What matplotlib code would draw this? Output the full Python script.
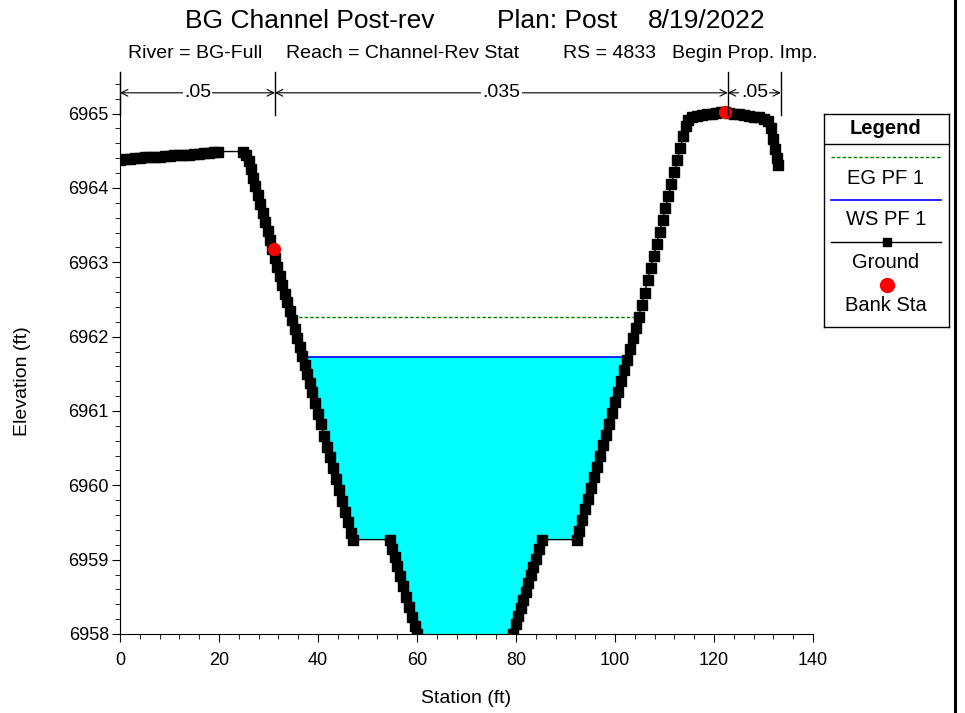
import matplotlib.pyplot as plt
from matplotlib.lines import Line2D
from matplotlib.ticker import MultipleLocator

plt.rcParams['font.family'] = ['Liberation Sans', 'DejaVu Sans']

# Ground profile (station, elevation)
station = [0, 1, 2, 3, 4, 5, 6, 7, 8, 9, 10, 11, 12, 13, 14, 15, 16, 17, 18, 19, 19.8,
           24.9, 25.5, 26.0, 26.4, 26.8, 27.3, 27.8, 28.3, 28.8, 29.3, 29.8, 30.3, 30.8, 31.3,
           31.8, 32.3, 32.8, 33.3, 33.8, 34.3, 34.8, 35.3, 35.8, 36.3, 36.8, 37.3, 37.8,
           38.3, 38.8, 39.4, 40.0, 40.6, 41.2, 41.8, 42.4, 43.0, 43.6, 44.2, 44.8, 45.4,
           46.0, 46.6, 47.1, 54.5, 55.0, 55.5, 56.0, 56.6, 57.2, 57.8, 58.4, 59.0, 59.5,
           60.0, 61.0, 78.5, 79.4, 80.0, 80.5, 81.0, 81.5, 82.0, 82.5, 83.0, 83.5, 84.0,
           84.6, 85.2, 92.3, 92.8, 93.4, 94.0, 94.6, 95.2, 95.8, 96.4, 97.0, 97.6, 98.2,
           98.8, 99.4, 100.0, 100.6, 101.2, 101.8, 102.4, 103.0, 103.6, 104.2, 104.8,
           105.4, 106.0, 106.6, 107.2, 107.8, 108.4, 109.0, 109.6, 110.2, 110.8, 111.4,
           112.0, 112.6, 113.2, 113.8, 114.4, 114.8, 115.5, 116.5, 117.5, 118.5, 119.5,
           120.5, 121.5, 122.2, 123.0, 124.0, 125.0, 126.0, 127.0, 128.0, 129.0, 130.0,
           131.0, 131.5, 132.0, 132.4, 132.7, 132.9]
elevation = [6964.38, 6964.39, 6964.39, 6964.40, 6964.40, 6964.41, 6964.41, 6964.42,
             6964.42, 6964.43, 6964.43, 6964.44, 6964.44, 6964.45, 6964.45, 6964.46,
             6964.46, 6964.47, 6964.47, 6964.48, 6964.49,
             6964.49, 6964.45, 6964.36, 6964.25, 6964.14, 6964.02, 6963.90, 6963.78,
             6963.66, 6963.54, 6963.42, 6963.30, 6963.18, 6963.06,
             6962.94, 6962.82, 6962.70, 6962.58, 6962.46, 6962.34, 6962.22, 6962.10,
             6961.98, 6961.86, 6961.74, 6961.62, 6961.50,
             6961.38, 6961.26, 6961.11, 6960.96, 6960.82, 6960.67, 6960.52, 6960.38,
             6960.23, 6960.08, 6959.94, 6959.79, 6959.64,
             6959.50, 6959.36, 6959.27, 6959.27, 6959.15, 6959.04, 6958.92, 6958.78,
             6958.64, 6958.50, 6958.36, 6958.23, 6958.11,
             6958.00, 6957.75, 6957.75, 6958.00, 6958.13, 6958.24, 6958.35, 6958.46,
             6958.57, 6958.68, 6958.79, 6958.90, 6959.01,
             6959.14, 6959.27, 6959.27, 6959.39, 6959.53, 6959.68, 6959.82, 6959.96,
             6960.11, 6960.25, 6960.40, 6960.54, 6960.68,
             6960.83, 6960.97, 6961.12, 6961.26, 6961.40, 6961.55, 6961.69, 6961.84,
             6961.98, 6962.12, 6962.27,
             6962.43, 6962.59, 6962.76, 6962.92, 6963.08, 6963.24, 6963.41, 6963.57,
             6963.73, 6963.89, 6964.06,
             6964.22, 6964.38, 6964.54, 6964.70, 6964.84, 6964.92, 6964.95, 6964.97,
             6964.98, 6964.99, 6965.00,
             6965.01, 6965.02, 6965.02, 6965.01, 6965.00, 6964.99, 6964.98, 6964.97,
             6964.96, 6964.95, 6964.93,
             6964.90, 6964.80, 6964.66, 6964.52, 6964.40, 6964.31]

bank_sta = [31.1, 122.2]
bank_elev = [6963.18, 6965.02]

ws_elev = 6961.73
ws_range = [37.0, 102.6]
eg_elev = 6962.27
eg_range = [34.9, 105.0]

n_bounds = [0, 31.3, 122.8, 133.5]
n_values = ['.05', '.035', '.05']

title_parts = ['BG Channel Post-rev', 'Plan: Post', '8/19/2022']
subtitle_parts = ['River = BG-Full', 'Reach = Channel-Rev Stat', 'RS = 4833',
                  'Begin Prop. Imp.']

fig = plt.figure(figsize=(9.65, 7.13), dpi=100)
ax = fig.add_axes([120 / 965, 79 / 713, 693 / 965, 562 / 713])

# water fill
ax.fill_between(station, elevation, ws_elev,
                where=[(ws_range[0] <= s <= ws_range[1]) for s in station],
                interpolate=True, color='#00ffff', lw=0, zorder=1)
ax.hlines(ws_elev, ws_range[0], ws_range[1], color='#0000ff', lw=1.2, zorder=2)
ax.hlines(eg_elev, eg_range[0], eg_range[1], color='#008000', lw=1,
          linestyles=(0, (2.5, 1.5)), zorder=2)

ax.plot(station, elevation, color='black', lw=1, marker='s', ms=6.5,
        mfc='black', mec='black', zorder=3)
ax.plot(bank_sta, bank_elev, 'o', color='#ff0000', ms=8.5, zorder=4)

ax.set_xlim(0, 140)
ax.set_ylim(6958, 6965.56)
ax.xaxis.set_major_locator(MultipleLocator(20))
ax.xaxis.set_minor_locator(MultipleLocator(4))
ax.yaxis.set_major_locator(MultipleLocator(1))
ax.yaxis.set_minor_locator(MultipleLocator(0.2))
ax.tick_params(which='major', direction='out', length=6, labelsize=13)
ax.tick_params(which='minor', direction='out', length=3.5)
ax.tick_params(axis='x', which='major', pad=7)
ax.tick_params(axis='y', which='major', pad=2)
ax.spines['top'].set_visible(False)
ax.spines['right'].set_visible(False)
ax.set_xlabel('Station (ft)', fontsize=14)
ax.set_ylabel('Elevation (ft)', fontsize=14)
ax.xaxis.set_label_coords(0.5, -0.1)
ax.yaxis.set_label_coords(-0.128, 0.45)

# Manning's n markers
y_top = 6965.56
y_bot = 6964.98
y_arrow = 6965.28
for b in n_bounds:
    ax.plot([b, b], [y_bot, y_top], color='black', lw=1, clip_on=False, zorder=5)
for i, n in enumerate(n_values):
    a, b = n_bounds[i], n_bounds[i + 1]
    ax.annotate('', xy=(a, y_arrow), xytext=(b, y_arrow),
                arrowprops=dict(arrowstyle='<->', lw=0.8, color='black',
                                shrinkA=0, shrinkB=0, mutation_scale=12),
                annotation_clip=False)
    ax.text((a + b) / 2, y_arrow, n, ha='center', va='center', fontsize=14,
            bbox=dict(fc='white', ec='none', pad=1), zorder=6, clip_on=False)

for txt, x in zip(title_parts, [185, 497, 648]):
    fig.text(x / 965, 1 - 21 / 713, txt, ha='left', va='center', fontsize=19)
for txt, x in zip(subtitle_parts, [128, 286, 563, 672]):
    fig.text(x / 965, 1 - 53 / 713, txt, ha='left', va='center', fontsize=14)

# right border line
fig.add_artist(Line2D([955 / 965, 955 / 965], [0, 1], color='black', lw=2.2))

# legend box
lg = fig.add_axes([824 / 965, 1 - 327 / 713, 125 / 965, 213 / 713])
lg.set_xlim(824, 949)
lg.set_ylim(327, 114)
lg.set_xticks([])
lg.set_yticks([])
for s in lg.spines.values():
    s.set_linewidth(1)
lg.text(886, 129, 'Legend', ha='center', va='center', fontsize=14.5, fontweight='bold')
lg.axhline(144, color='black', lw=1)
lg.plot([831, 941], [157, 157], color='#008000', lw=1, ls=(0, (2.5, 1.5)))
lg.text(886, 178, 'EG PF 1', ha='center', va='center', fontsize=14.5)
lg.plot([831, 941], [200, 200], color='#0000ff', lw=1.2)
lg.text(886, 220, 'WS PF 1', ha='center', va='center', fontsize=14.5)
lg.plot([831, 941], [242, 242], color='black', lw=1)
lg.plot([887], [242], 's', color='black', ms=6)
lg.text(886, 263, 'Ground', ha='center', va='center', fontsize=14.5)
lg.plot([887], [285], 'o', color='#ff0000', ms=10)
lg.text(886, 306, 'Bank Sta', ha='center', va='center', fontsize=14.5)

fig.savefig('out.png', dpi=100)
